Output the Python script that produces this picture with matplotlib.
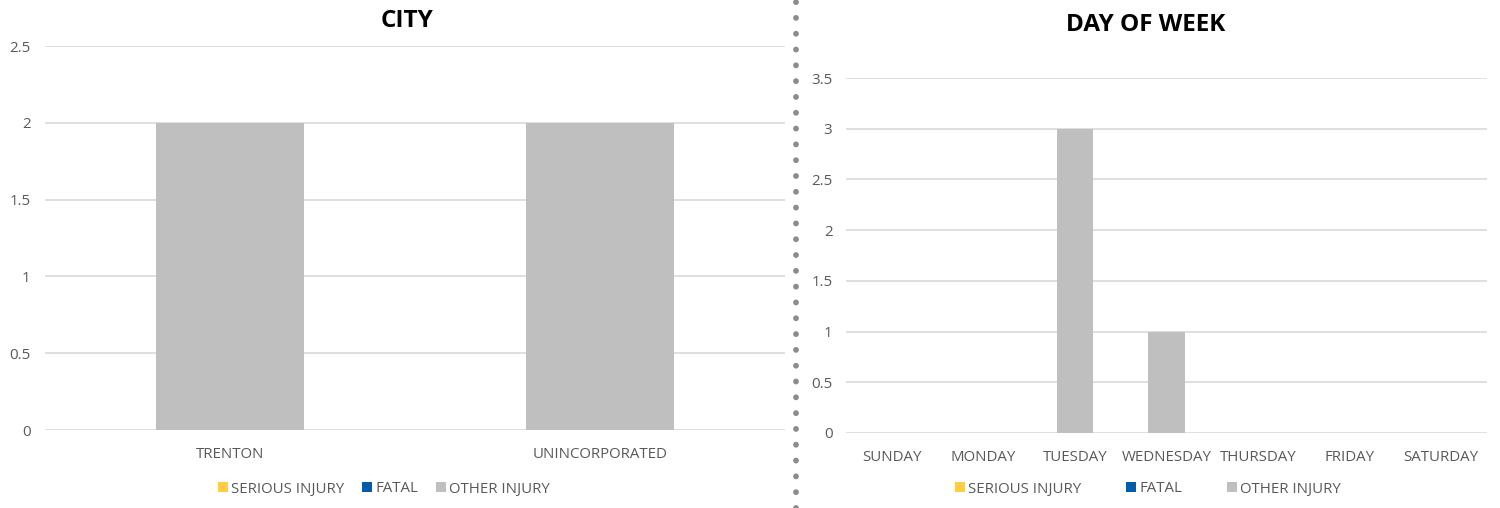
import matplotlib
matplotlib.use("Agg")
import matplotlib.pyplot as plt
from matplotlib.lines import Line2D
from matplotlib.patches import Patch
import numpy as np

plt.rcParams['font.family'] = ['Open Sans', 'DejaVu Sans']

# data
series = ["SERIOUS INJURY", "FATAL", "OTHER INJURY"]
colors = ["#FFCD3F", "#005DAA", "#BFBFBF"]

cities = ["TRENTON", "UNINCORPORATED"]
city_serious = [0, 0]
city_fatal = [0, 0]
city_other = [2, 2]

days = ["SUNDAY", "MONDAY", "TUESDAY", "WEDNESDAY", "THURSDAY", "FRIDAY", "SATURDAY"]
day_serious = [0, 0, 0, 0, 0, 0, 0]
day_fatal = [0, 0, 0, 0, 0, 0, 0]
day_other = [0, 0, 3, 1, 0, 0, 0]

W, H = 1500, 508
fig = plt.figure(figsize=(W / 100, H / 100), dpi=100)
fig.patch.set_facecolor("white")

tick_col = "#595959"
grid_col = "#D9D9D9"


def px_axes(x0, y0, x1, y1):
    # pixel box (top-left origin) -> figure axes
    return fig.add_axes([x0 / W, 1 - y1 / H, (x1 - x0) / W, (y1 - y0) / H])


def draw(ax, cats, stacks, ymax, step, title, title_pos, ypad):
    x = np.arange(len(cats))
    bottom = np.zeros(len(cats))
    for vals, c in zip(stacks, colors):
        ax.bar(x, vals, 0.4, bottom=bottom, color=c, zorder=3)
        bottom += np.array(vals, dtype=float)
    ax.set_xlim(-0.5, len(cats) - 0.5)
    ax.set_ylim(0, ymax)
    yt = np.arange(0, ymax + step / 2, step)
    ax.set_yticks(yt)
    ax.set_yticklabels(["%g" % v for v in yt])
    ax.set_xticks(x)
    ax.set_xticklabels(cats)
    ax.grid(axis="y", color=grid_col, lw=1.2, zorder=0)
    for s in ax.spines.values():
        s.set_visible(False)
    ax.tick_params(length=0, labelsize=10.8, colors=tick_col)
    ax.tick_params(axis="y", pad=ypad)
    ax.tick_params(axis="x", pad=12.5)
    fig.text(title_pos[0] / W, 1 - title_pos[1] / H, title, ha="center", va="center",
             fontsize=17.5, fontweight="bold", color="black")


ax1 = px_axes(45, 46, 785, 430)
draw(ax1, cities, [city_serious, city_fatal, city_other], 2.5, 0.5, "CITY", (407, 21), 10.5)

ax2 = px_axes(846, 78, 1487, 433)
draw(ax2, days, [day_serious, day_fatal, day_other], 3.5, 0.5, "DAY OF WEEK", (1146, 25), 9.8)

handles = [Patch(facecolor=c, edgecolor="none") for c in colors]
for cx, gap in [(384, 1.2), (1148, 3.0)]:
    leg = fig.legend(handles, series, loc="center", bbox_to_anchor=(cx / W, 1 - 489 / H),
                     ncol=3, frameon=False, fontsize=10.8, handlelength=0.65, handleheight=0.65,
                     handletextpad=0.2, columnspacing=gap)
    for t in leg.get_texts():
        t.set_color(tick_col)

# dotted separator
fig.add_artist(Line2D([796 / W, 796 / W], [0, 1], transform=fig.transFigure,
                      color="#8C8C8C", lw=4.2, linestyle=(0, (0.01, 2.7)),
                      dash_capstyle="round"))

fig.savefig("out.png", dpi=100, facecolor="white")
